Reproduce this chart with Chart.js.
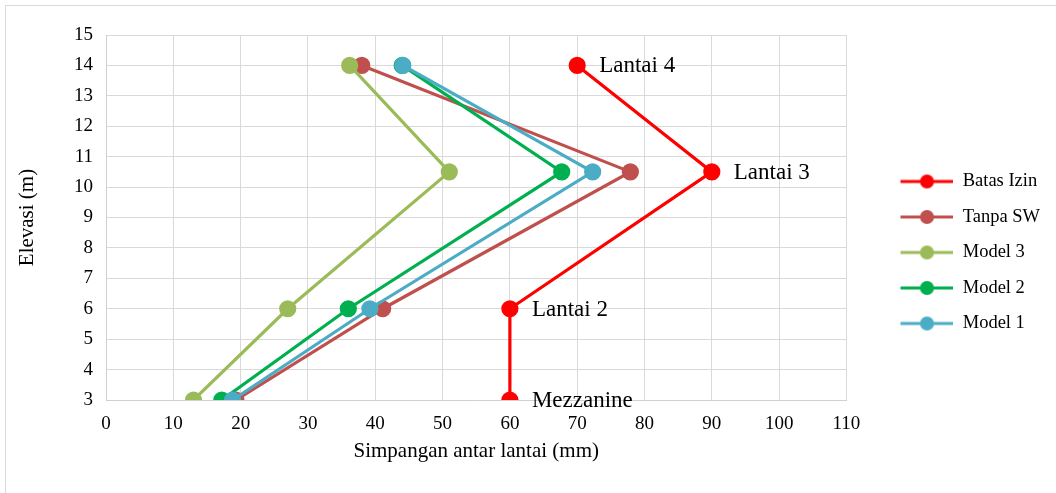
<!DOCTYPE html>
<html>
<head>
<meta charset="utf-8">
<script src="https://cdn.jsdelivr.net/npm/chart.js@4/dist/chart.umd.min.js"></script>
<style>
  html, body { margin: 0; padding: 0; background: #fff; }
  #wrap { width: 1056px; height: 493px; }
</style>
</head>
<body>
<div id="wrap"><canvas id="driftChart" width="1056" height="493"></canvas></div>
<script>
// elevasi tiap lantai (m)
var elevasi = [3, 6, 10.5, 14];
var namaLantai = ["Mezzanine", "Lantai 2", "Lantai 3", "Lantai 4"];

// simpangan antar lantai (mm)
var batasIzin = [60, 60, 90, 70];
var tanpaSW = [19.3, 41.1, 77.9, 38];
var model3 = [13, 27, 51, 36.2];
var model2 = [17.2, 36, 67.7, 44];
var model1 = [18.8, 39.2, 72.3, 44.1];

var xTicks = [0, 110, 10];
var yTicks = [3, 15, 1];

var serif = "'Liberation Serif', 'Times New Roman', serif";

function toPoints(vals) {
  return vals.map(function (v, i) { return { x: v, y: elevasi[i] }; });
}

function series(label, vals, color, order) {
  return {
    label: label,
    data: toPoints(vals),
    borderColor: color,
    backgroundColor: color,
    pointBackgroundColor: color,
    pointBorderColor: color,
    borderWidth: 3.2,
    pointRadius: 7,
    pointHoverRadius: 7,
    tension: 0,
    fill: false,
    order: order
  };
}

// little line+dot swatch for the legend
function swatch(color) {
  var c = document.createElement("canvas");
  c.width = 90;
  c.height = 16;
  var g = c.getContext("2d");
  g.strokeStyle = color;
  g.lineWidth = 3.2;
  g.beginPath();
  g.moveTo(37, 8);
  g.lineTo(90, 8);
  g.stroke();
  g.fillStyle = color;
  g.beginPath();
  g.arc(63.5, 8, 7, 0, Math.PI * 2);
  g.fill();
  return c;
}

var frame = {
  id: "frame",
  beforeDraw: function (chart) {
    var ctx = chart.ctx;
    ctx.save();
    ctx.fillStyle = "#fff";
    ctx.fillRect(0, 0, chart.width, chart.height);
    ctx.strokeStyle = "#d9d9d9";
    ctx.lineWidth = 1;
    ctx.beginPath();
    ctx.moveTo(5.5, chart.height);
    ctx.lineTo(5.5, 5.5);
    ctx.lineTo(chart.width, 5.5);
    ctx.stroke();
    ctx.restore();
  }
};

var floorLabels = {
  id: "floorLabels",
  afterDatasetsDraw: function (chart) {
    var meta = chart.getDatasetMeta(0);
    var ctx = chart.ctx;
    ctx.save();
    ctx.font = "23px " + serif;
    ctx.fillStyle = "#000";
    ctx.textAlign = "left";
    ctx.textBaseline = "middle";
    meta.data.forEach(function (pt, i) {
      ctx.fillText(namaLantai[i], pt.x + 22, pt.y + 1);
    });
    ctx.restore();
  }
};

var ctx = document.getElementById("driftChart");
var myChart = new Chart(ctx, {
  type: "line",
  data: {
    datasets: [
      series("Batas Izin", batasIzin, "#ff0000", 5),
      series("Tanpa SW", tanpaSW, "#c0504d", 4),
      series("Model 3", model3, "#9bbb59", 3),
      series("Model 2", model2, "#00b050", 2),
      series("Model 1", model1, "#4bacc6", 1)
    ]
  },
  plugins: [frame, floorLabels],
  options: {
    responsive: false,
    animation: false,
    layout: {
      padding: { top: 35, left: 0, right: 6, bottom: 23 }
    },
    plugins: {
      tooltip: { enabled: false },
      legend: {
        position: "right",
        labels: {
          usePointStyle: true,
          pointStyleWidth: 90,
          padding: 17,
          color: "#000",
          font: { family: serif, size: 18.5 },
          generateLabels: function (chart) {
            return chart.data.datasets.map(function (ds, i) {
              return {
                text: ds.label,
                pointStyle: swatch(ds.borderColor),
                fillStyle: ds.borderColor,
                strokeStyle: ds.borderColor,
                lineWidth: 0,
                hidden: false,
                datasetIndex: i
              };
            });
          }
        }
      }
    },
    scales: {
      x: {
        type: "linear",
        min: xTicks[0],
        max: xTicks[1],
        afterFit: function (scale) { scale.height = 70; },
        ticks: {
          stepSize: xTicks[2],
          padding: 13,
          color: "#000",
          font: { family: serif, size: 19 },
          maxRotation: 0
        },
        grid: { color: "#d9d9d9", drawTicks: false },
        border: { color: "#d0d0d0" },
        title: {
          display: true,
          text: "Simpangan antar lantai (mm)",
          color: "#000",
          font: { family: serif, size: 21 },
          padding: { top: 0, bottom: 6 }
        }
      },
      y: {
        type: "linear",
        min: yTicks[0],
        max: yTicks[1],
        afterFit: function (scale) { scale.width = 106; },
        ticks: {
          stepSize: yTicks[2],
          padding: 13,
          color: "#000",
          font: { family: serif, size: 19 }
        },
        grid: { color: "#d9d9d9", drawTicks: false },
        border: { color: "#d0d0d0" },
        title: {
          display: true,
          text: "Elevasi (m)",
          color: "#000",
          font: { family: serif, size: 21 },
          padding: { top: 15, bottom: 0 }
        }
      }
    }
  }
});
</script>
</body>
</html>
